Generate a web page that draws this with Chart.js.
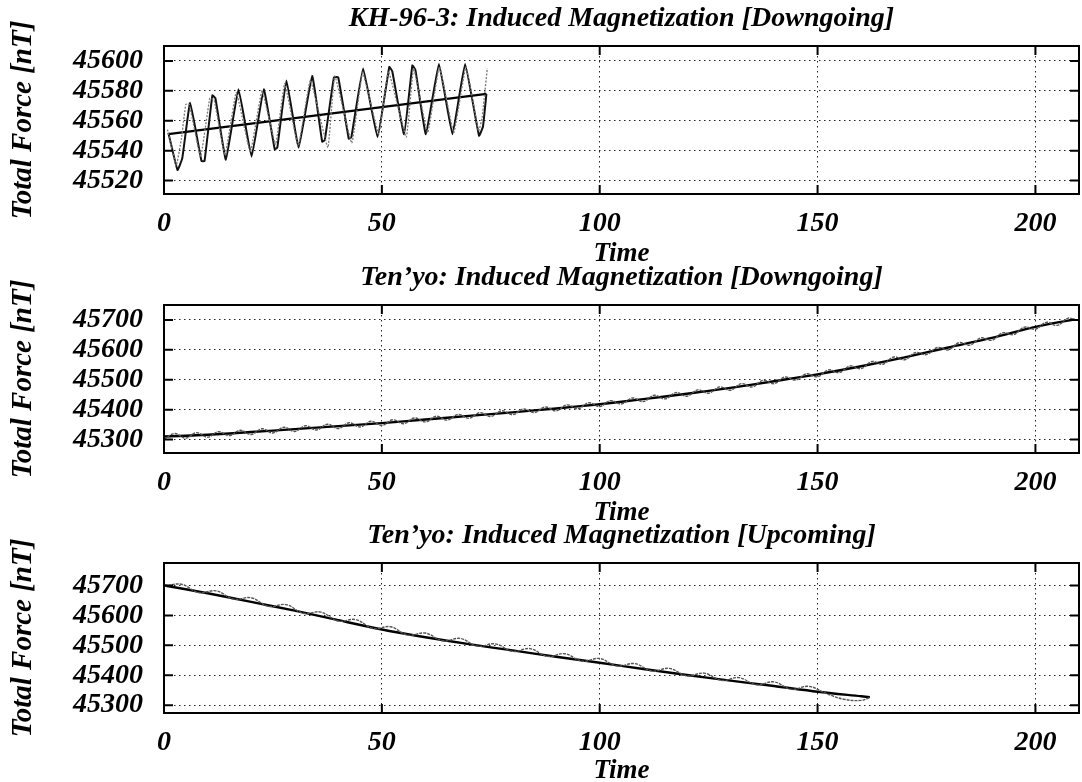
<!DOCTYPE html>
<html>
<head>
<meta charset="utf-8">
<title>Induced Magnetization</title>
<script src="https://cdn.jsdelivr.net/npm/chart.js@4.4.1/dist/chart.umd.min.js"></script>
<style>
  html, body { margin: 0; padding: 0; background: #fff; overflow: hidden; }
  #wrap { position: relative; width: 1082px; height: 782px; }
  canvas { position: absolute; left: 0; }
</style>
</head>
<body>
<div id="wrap">
  <canvas id="panel1" width="1082" height="300" style="top:0px"></canvas>
  <canvas id="panel2" width="1082" height="300" style="top:259px"></canvas>
  <canvas id="panel3" width="1082" height="300" style="top:517px"></canvas>
</div>
<script>
// shared x axis
const xTicks = [0, 50, 100, 150, 200];

// KH-96-3 (downgoing)
const kh96Ticks = [45520, 45540, 45560, 45580, 45600];
const kh96Time = [1, 3.1, 4.2, 6, 8.6, 9.3, 11.1, 11.8, 14.2, 17.1, 20.1, 22.9, 25.4, 26, 28.1, 30.9, 34, 36.3, 36.9, 39,
  40, 42.4, 43, 45.7, 49, 51.7, 52.4, 55.1, 57, 57.7, 60.1, 63.1, 66.2, 69.1, 72.3, 73.2, 74];
const kh96Solid = [45552, 45527, 45535, 45572, 45533, 45533, 45577, 45575, 45534, 45581, 45536, 45581, 45541, 45542, 45587, 45542, 45590, 45546, 45547, 45589,
  45589, 45548, 45549, 45595, 45549, 45596, 45593, 45551, 45597, 45594, 45551, 45598, 45551, 45598, 45550, 45556, 45578];
const kh96DotTime = [0.8, 2.8, 4.0, 5.0, 5.8, 8.4, 10.5, 11.5, 14.0, 16.6, 19.8, 22.5, 25.6, 27.7, 30.8, 33.6, 37.6, 39.2, 43.1, 45.6,
  49.3, 51.5, 55.6, 57.3, 60.5, 63.2, 66.5, 69.3, 72.2, 73.0, 74.2];
const kh96Dot = [45554, 45530, 45548, 45571, 45571, 45536, 45575, 45574, 45537, 45579, 45539, 45580, 45544, 45585, 45543, 45587, 45542, 45590, 45545, 45592,
  45551, 45593, 45549, 45595, 45552, 45596, 45552, 45596, 45553, 45562, 45595];
const kh96TrendTime = [1, 74];
const kh96Trend = [45551, 45578];

// Ten'yo (downgoing)
const downTicks = [45300, 45400, 45500, 45600, 45700];
const downTrendTime = [0, 10, 20, 30, 40, 50, 60, 70, 80, 90, 100, 110, 120, 130, 140, 150, 160, 170, 180, 190, 200, 209];
const downTrend = [45310, 45316, 45325, 45335, 45345, 45355, 45367, 45379, 45391, 45404, 45418, 45435, 45453, 45473, 45495, 45518, 45545, 45575, 45608, 45640, 45677, 45702];
const downDotTime = [0, 2.5, 5, 7.5, 10, 12.5, 15, 17.5, 20, 22.5, 25, 27.5, 30, 32.5, 35, 37.5, 40, 42.5, 45, 47.5,
  50, 52.5, 55, 57.5, 60, 62.5, 65, 67.5, 70, 72.5, 75, 77.5, 80, 82.5, 85, 87.5, 90, 92.5, 95, 97.5,
  100, 102.5, 105, 107.5, 110, 112.5, 115, 117.5, 120, 122.5, 125, 127.5, 130, 132.5, 135, 137.5, 140, 142.5, 145, 147.5,
  150, 152.5, 155, 157.5, 160, 162.5, 165, 167.5, 170, 172.5, 175, 177.5, 180, 182.5, 185, 187.5, 190, 192.5, 195, 197.5,
  200, 202.5, 205, 207.5, 209];
const downDot = [45302, 45320, 45305, 45323, 45308, 45326, 45313, 45331, 45317, 45336,
  45322, 45341, 45327, 45346, 45332, 45351, 45337, 45356, 45342, 45361,
  45347, 45366, 45353, 45372, 45359, 45378, 45365, 45384, 45371, 45390,
  45377, 45396, 45383, 45402, 45390, 45409, 45396, 45416, 45403, 45423,
  45410, 45430, 45419, 45439, 45427, 45448, 45436, 45457, 45445, 45466,
  45455, 45476, 45465, 45487, 45476, 45498, 45487, 45509, 45499, 45520,
  45510, 45533, 45524, 45546, 45537, 45561, 45552, 45576, 45567, 45591,
  45584, 45608, 45600, 45624, 45616, 45640, 45632, 45657, 45651, 45676,
  45669, 45692, 45682, 45706, 45700];

// Ten'yo (upcoming)
const upTicks = [45300, 45400, 45500, 45600, 45700];
const upTrendTime = [0, 10, 20, 30, 40, 50, 60, 70, 80, 90, 100, 110, 120, 130, 140, 150, 160, 162];
const upTrend = [45700, 45674, 45645, 45616, 45584, 45553, 45527, 45504, 45483, 45462, 45442, 45421, 45401, 45382, 45364, 45345, 45330, 45327];
const upDotTime = [0, 4, 8, 12, 16, 20, 24, 28, 32, 36, 40, 44, 48, 52, 56, 60, 64, 68, 72, 76,
  80, 84, 88, 92, 96, 100, 104, 108, 112, 116, 120, 124, 128, 132, 136, 140, 144, 148, 152, 156, 160, 162];
const upDot = [45697, 45704, 45676, 45682, 45654, 45659, 45630, 45636, 45607, 45611, 45581, 45586, 45556, 45562, 45534, 45541, 45515, 45523, 45497, 45505,
  45480, 45489, 45463, 45472, 45447, 45456, 45431, 45439, 45414, 45423, 45398, 45407, 45383, 45392, 45368, 45378, 45353, 45363, 45339, 45320, 45316, 45326];

const FONT = "'Liberation Serif', 'DejaVu Serif', serif";
const pts = (t, v) => t.map((x, i) => ({ x, y: v[i] }));

// solid frame plus inward tick marks on all four sides
const framePlugin = {
  id: 'frame',
  afterDatasetsDraw(chart) {
    const { ctx, chartArea: a, scales: { x, y } } = chart;
    ctx.save();
    ctx.strokeStyle = '#000';
    ctx.lineWidth = 2;
    ctx.beginPath();
    xTicks.forEach(v => {
      const px = x.getPixelForValue(v);
      ctx.moveTo(px, a.top); ctx.lineTo(px, a.top + 9);
      ctx.moveTo(px, a.bottom); ctx.lineTo(px, a.bottom - 9);
    });
    y.ticks.forEach(t => {
      const py = y.getPixelForValue(t.value);
      ctx.moveTo(a.left, py); ctx.lineTo(a.left + 9, py);
      ctx.moveTo(a.right, py); ctx.lineTo(a.right - 9, py);
    });
    ctx.stroke();
    ctx.strokeRect(a.left, a.top, a.right - a.left, a.bottom - a.top);
    ctx.restore();
  }
};

function makePanel(id, title, yMin, yMax, yTicks, axisHeight, datasets) {
  return new Chart(document.getElementById(id), {
    type: 'line',
    data: { datasets },
    options: {
      responsive: false,
      animation: false,
      events: [],
      layout: { padding: { left: 0, right: 3, top: 0, bottom: 0 } },
      elements: { point: { radius: 0 } },
      plugins: {
        legend: { display: false },
        tooltip: { enabled: false },
        title: {
          display: true,
          fullSize: false,
          text: title,
          color: '#000',
          font: { family: FONT, size: 28, weight: 'bold', style: 'italic' },
          padding: { top: 2, bottom: 10.4 }
        }
      },
      scales: {
        x: {
          type: 'linear',
          min: 0,
          max: 210,
          afterBuildTicks: s => { s.ticks = xTicks.map(v => ({ value: v })); },
          afterFit: s => { s.height = axisHeight; },
          grid: { color: '#222', lineWidth: 1, drawTicks: false },
          border: { display: false, dash: [1.5, 3.5] },
          ticks: {
            color: '#000',
            padding: 13,
            callback: v => String(v),
            font: { family: FONT, size: 28, weight: 'bold', style: 'italic' }
          },
          title: {
            display: true,
            text: 'Time',
            color: '#000',
            font: { family: FONT, size: 27, weight: 'bold', style: 'italic' },
            padding: { top: 0, bottom: 30 }
          }
        },
        y: {
          min: yMin,
          max: yMax,
          afterBuildTicks: s => { s.ticks = yTicks.map(v => ({ value: v })); },
          afterFit: s => { s.width = 164; },
          grid: { color: '#222', lineWidth: 1, drawTicks: false },
          border: { display: false, dash: [1.5, 3.5] },
          ticks: {
            color: '#000',
            padding: 21,
            callback: v => String(v),
            font: { family: FONT, size: 28, weight: 'bold', style: 'italic' }
          },
          title: {
            display: true,
            text: 'Total Force [nT]',
            color: '#000',
            font: { family: FONT, size: 29, weight: 'bold', style: 'italic' },
            padding: { top: 6.6, bottom: 0 }
          }
        }
      }
    },
    plugins: [framePlugin]
  });
}

makePanel('panel1', 'KH-96-3: Induced Magnetization [Downgoing]', 45511, 45610, kh96Ticks, 106, [
  { data: pts(kh96DotTime, kh96Dot), borderColor: '#777', borderWidth: 1.3, borderDash: [2, 1.5], tension: 0.1 },
  { data: pts(kh96Time, kh96Solid), borderColor: '#111', borderWidth: 2, tension: 0.1 },
  { data: pts(kh96TrendTime, kh96Trend), borderColor: '#000', borderWidth: 2.2, tension: 0 }
]);

makePanel('panel2', 'Ten\u2019yo: Induced Magnetization [Downgoing]', 45255, 45750, downTicks, 106, [
  { data: pts(downDotTime, downDot), borderColor: '#555', borderWidth: 1.4, borderDash: [3, 1], tension: 0.4 },
  { data: pts(downTrendTime, downTrend), borderColor: '#000', borderWidth: 2.4, tension: 0.3 }
]);

makePanel('panel3', 'Ten\u2019yo: Induced Magnetization [Upcoming]', 45274, 45775, upTicks, 104, [
  { data: pts(upDotTime, upDot), borderColor: '#555', borderWidth: 1.4, borderDash: [3, 1], tension: 0.4 },
  { data: pts(upTrendTime, upTrend), borderColor: '#000', borderWidth: 2.4, tension: 0.3 }
]);
</script>
</body>
</html>
